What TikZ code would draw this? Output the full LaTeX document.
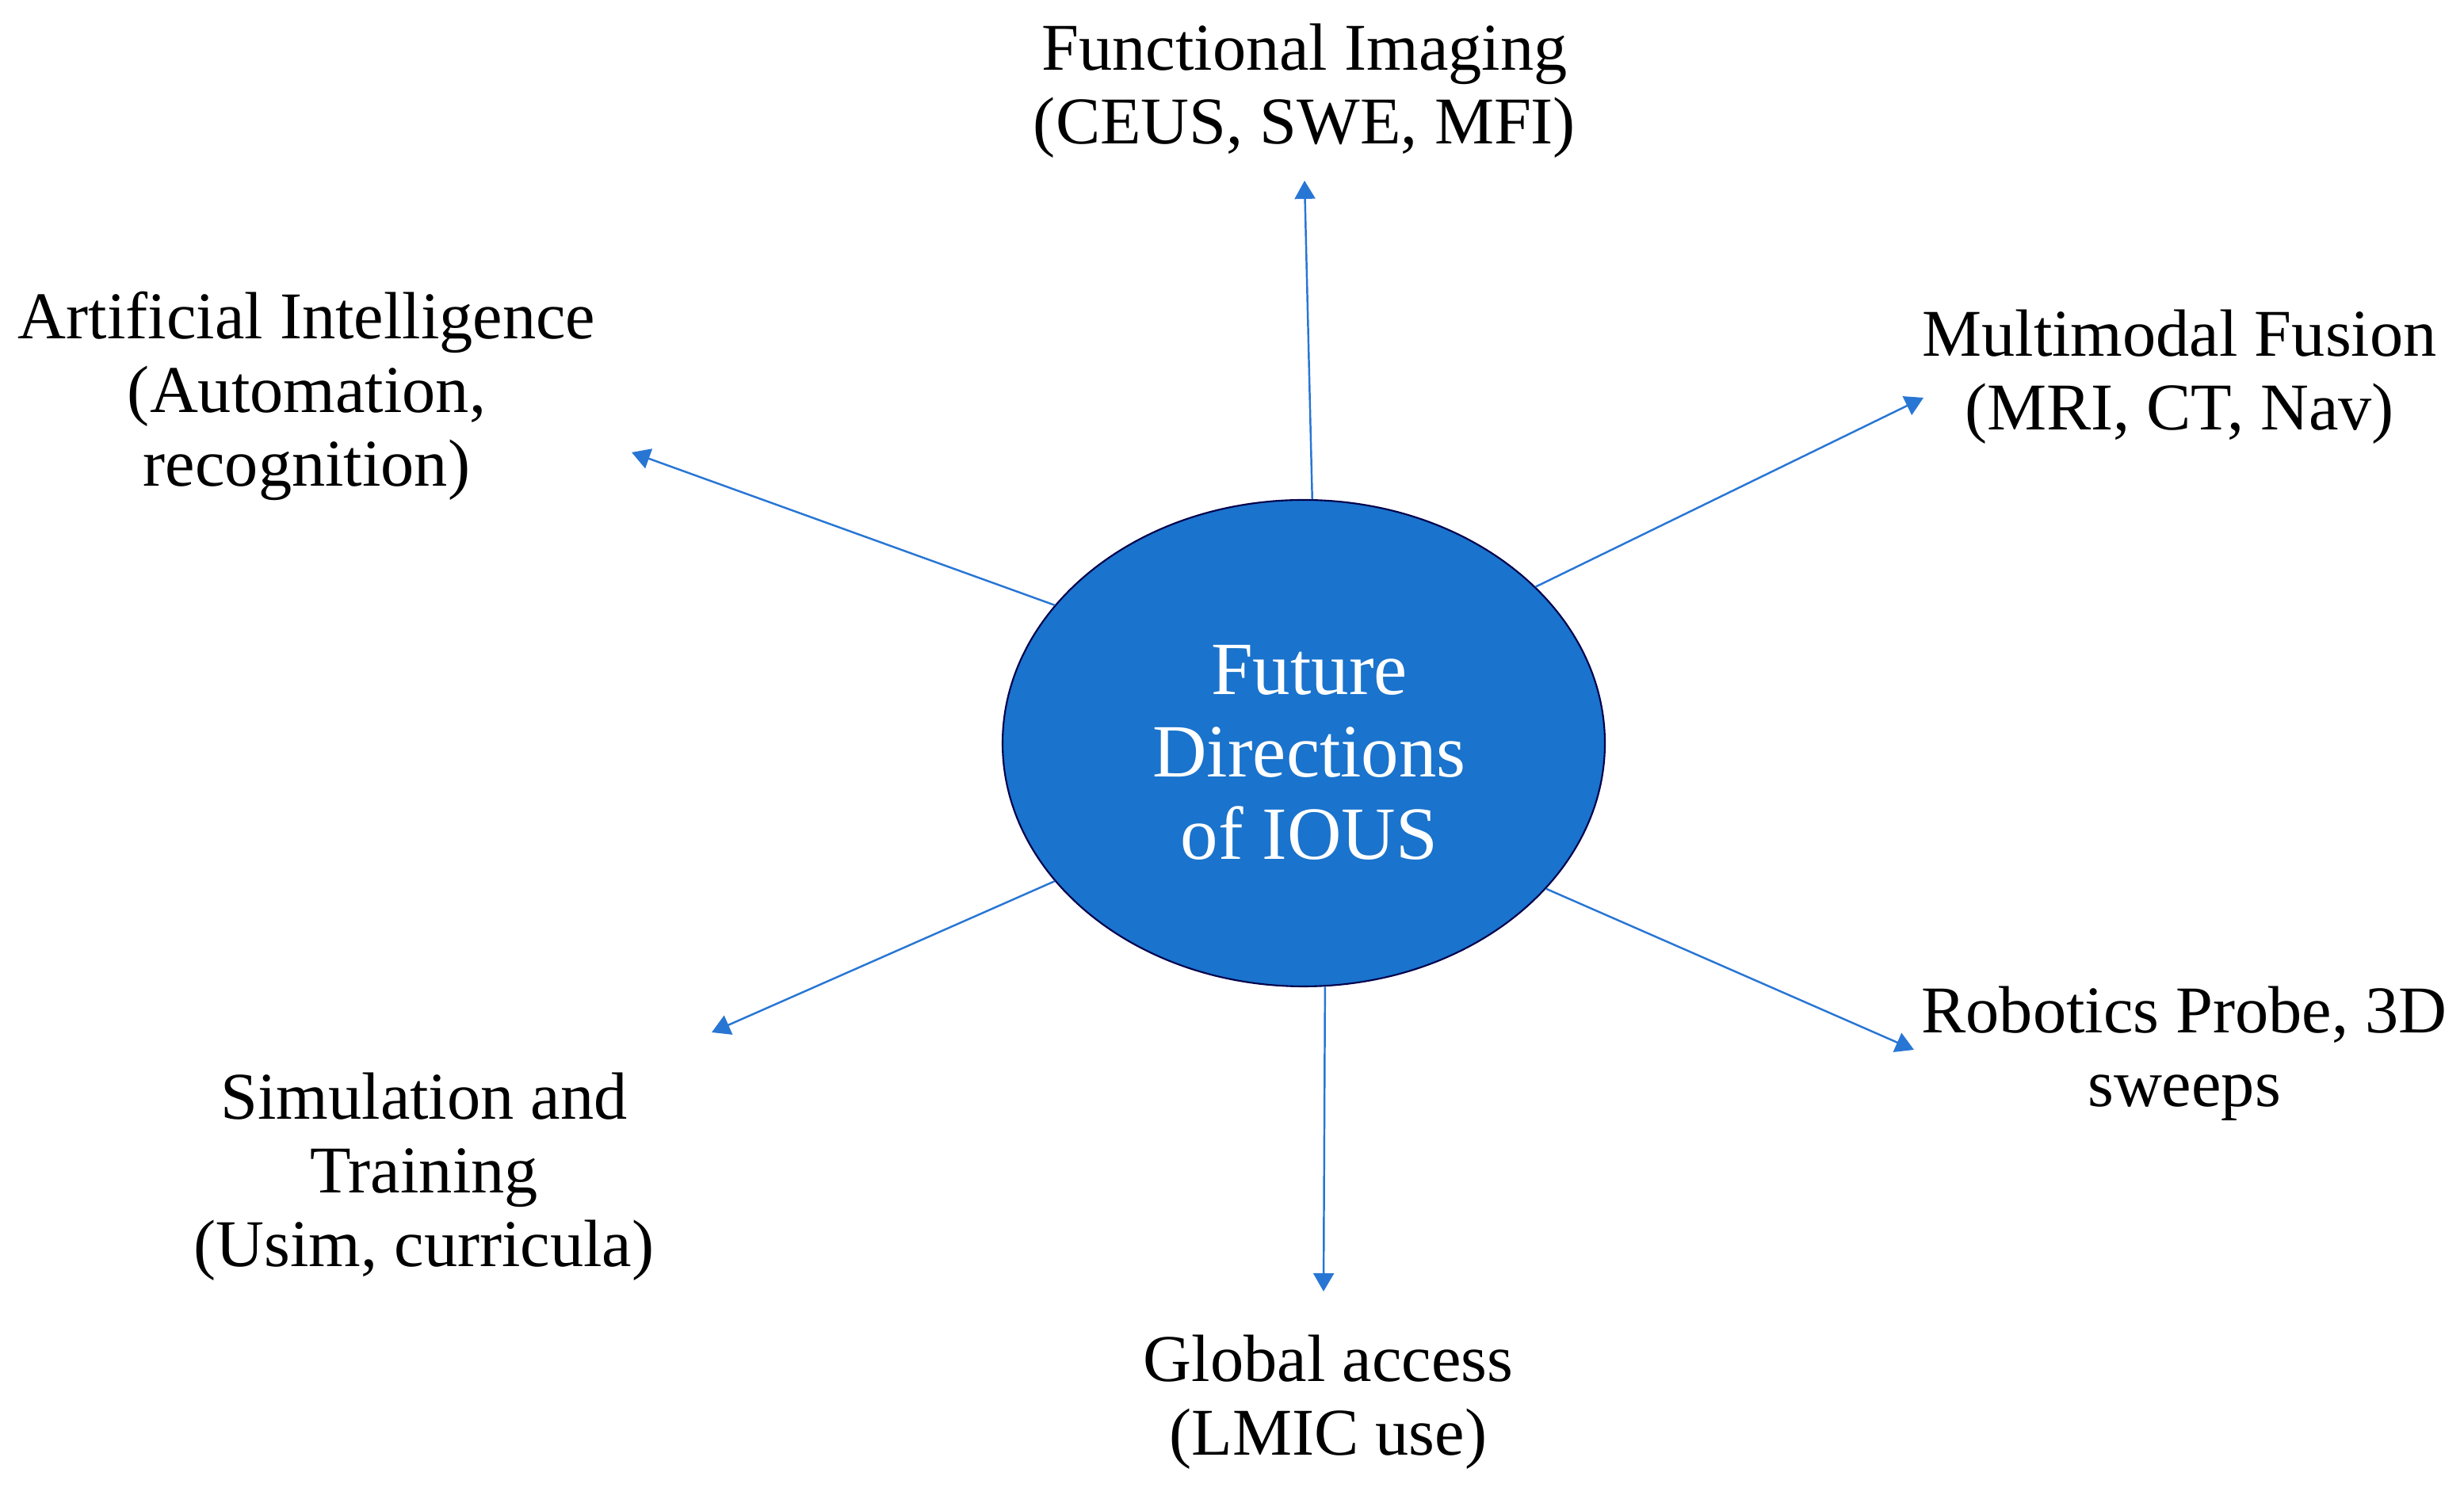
\documentclass[tikz,border=0pt]{standalone}
\usepackage{fontspec}
\setmainfont{Liberation Serif}
\usetikzlibrary{arrows.meta,shapes.geometric}
\definecolor{iousblue}{RGB}{26,115,204}
\definecolor{linkblue}{RGB}{40,118,212}

\begin{document}
\begin{tikzpicture}[>={Triangle[width=2.6mm,length=2.3mm]},
  hub/.style={ellipse, draw=black!70!blue, line width=0.6pt, fill=iousblue, minimum width=7.6cm, minimum height=6.14cm, text=white, align=center, font=\fontsize{27}{29.5}\selectfont},
  topic/.style={align=center, inner sep=0pt, font=\fontsize{24}{26.5}\selectfont},
  link/.style={->, linkblue, line width=0.7pt}]
\useasboundingbox (0,0) rectangle (31.09,18.97);
% hub
\node[hub] (c) at (16.45,9.59) {};
\node[text=white, align=center, font=\fontsize{27}{29.5}\selectfont] (ct) at (16.52,9.47) {Future\\Directions\\of IOUS};
% arrow ends
\coordinate (tfi) at (16.46,16.69);
\coordinate (tmf) at (24.27,13.95);
\coordinate (tai) at (7.97,13.26);
\coordinate (tst) at (8.98,5.94);
\coordinate (tga) at (16.70,2.67);
\coordinate (trp) at (24.15,5.72);
% topics
\node[topic] (fi) at (16.46,17.82) {Functional Imaging\\(CEUS, SWE, MFI)};
\node[topic] (mf) at (27.50,14.21) {Multimodal Fusion\\(MRI, CT, Nav)};
\node[topic] (ai) at (3.87,13.97) {Artificial Intelligence\\(Automation,\\recognition)};
\node[topic] (st) at (5.35,4.12) {Simulation and\\Training\\(Usim, curricula)};
\node[topic] (ga) at (16.76,1.27) {Global access\\(LMIC use)};
\node[topic] (rp) at (27.56,5.67) {Robotics Probe, 3D\\sweeps};
% links
\foreach \a/\t in {88/tfi, 34/tmf, 151/tai, 209/tst, -85/tga, -31/trp}
  \draw[link] (c.\a) -- (\t);
\end{tikzpicture}
\end{document}
